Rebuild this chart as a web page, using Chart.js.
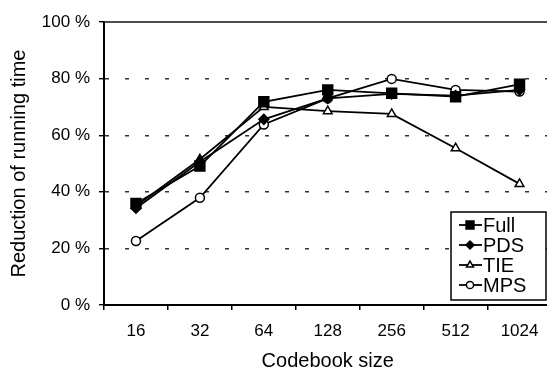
<!DOCTYPE html>
<html>
<head>
<meta charset="utf-8">
<script src="https://cdn.jsdelivr.net/npm/chart.js@4/dist/chart.umd.min.js"></script>
<style>
  html, body { margin: 0; padding: 0; background: #fff; overflow: hidden; }
  #wrap { width: 547px; height: 371px; overflow: hidden; position: relative; }
  #inner { width: 560px; height: 371px; position: absolute; left: 0; top: 0; }
</style>
</head>
<body>
<div id="wrap"><div id="inner"><canvas id="myChart"></canvas></div></div>
<script>
// codebook sizes and reduction of running time (%)
var codebook_sizes = ['16', '32', '64', '128', '256', '512', '1024'];
var full_vals = [35.9, 49.1, 71.8, 76, 74.8, 73.6, 78];
var pds_vals  = [34.2, 50.6, 65.6, 73, 74.6, 74, 76];
var tie_vals  = [35, 51.5, 70, 68.5, 67.5, 55.4, 42.8];
var mps_vals  = [22.6, 37.9, 63.8, 73, 79.9, 76, 75.4];
var y_ticks = [0, 20, 40, 60, 80, 100];

var FONT = "'Liberation Sans', Arial, sans-serif";

function series(label, data, style, fill, radius) {
    return {
        label: label,
        data: data,
        borderColor: '#000',
        borderWidth: 1.8,
        pointStyle: style,
        pointRadius: radius,
        pointHoverRadius: radius,
        pointBackgroundColor: fill,
        pointBorderColor: '#000',
        pointBorderWidth: 1.5,
        tension: 0
    };
}

// legend box with line + marker like the original
var boxLegend = {
    id: 'boxLegend',
    afterDraw: function(chart) {
        var ctx = chart.ctx;
        var x0 = 451, y0 = 212, w = 95, h = 88;
        ctx.save();
        ctx.fillStyle = '#fff';
        ctx.fillRect(x0, y0, w, h);
        ctx.strokeStyle = '#000';
        ctx.lineWidth = 1.5;
        ctx.strokeRect(x0, y0, w, h);
        ctx.font = '20px ' + FONT;
        ctx.textBaseline = 'middle';
        chart.data.datasets.forEach(function(ds, i) {
            var y = y0 + 13 + i * 20;
            ctx.strokeStyle = '#000';
            ctx.lineWidth = 1.8;
            ctx.beginPath();
            ctx.moveTo(x0 + 8, y);
            ctx.lineTo(x0 + 31, y);
            ctx.stroke();
            ctx.fillStyle = ds.pointBackgroundColor;
            ctx.lineWidth = 1.5;
            Chart.helpers.drawPoint(ctx, {
                pointStyle: ds.pointStyle,
                radius: ds.pointRadius * 0.8,
                borderWidth: 1.5,
                rotation: 0
            }, x0 + 19, y);
            ctx.fillStyle = '#000';
            ctx.fillText(ds.label, x0 + 32, y + 1);
        });
        ctx.restore();
    }
};

// top border of the plot
var topLine = {
    id: 'topLine',
    afterDraw: function(chart) {
        var a = chart.chartArea, ctx = chart.ctx;
        ctx.save();
        ctx.strokeStyle = '#111';
        ctx.lineWidth = 1.5;
        ctx.beginPath();
        ctx.moveTo(a.left, a.top);
        ctx.lineTo(a.right, a.top);
        ctx.stroke();
        ctx.restore();
    }
};

var ctx = document.getElementById('myChart').getContext('2d');
var myChart = new Chart(ctx, {
    type: 'line',
    data: {
        labels: codebook_sizes,
        datasets: [
            series('Full', full_vals, 'rect', '#000', 7),
            series('PDS', pds_vals, 'rectRot', '#000', 5),
            series('TIE', tie_vals, 'triangle', '#fff', 5),
            series('MPS', mps_vals, 'circle', '#fff', 4.5)
        ]
    },
    options: {
        responsive: true,
        maintainAspectRatio: false,
        animation: false,
        devicePixelRatio: 1,
        layout: { padding: { top: 22, right: 0, bottom: 0, left: 0 } },
        plugins: {
            legend: { display: false },
            tooltip: { enabled: false }
        },
        scales: {
            x: {
                offset: true,
                afterFit: function(scale) { scale.height = 66; },
                grid: {
                    offset: true,
                    drawOnChartArea: false,
                    color: '#000',
                    tickLength: 5,
                    lineWidth: 1.5
                },
                border: { color: '#000', width: 2 },
                ticks: {
                    color: '#000',
                    padding: 11,
                    font: { family: FONT, size: 17 }
                },
                title: {
                    display: true,
                    text: 'Codebook size',
                    color: '#000',
                    padding: { top: 0, bottom: 0 },
                    font: { family: FONT, size: 20, lineHeight: 1 }
                }
            },
            y: {
                min: 0,
                max: 100,
                afterFit: function(scale) { scale.width = 104; },
                afterBuildTicks: function(scale) {
                    scale.ticks = y_ticks.map(function(v) { return { value: v }; });
                },
                grid: {
                    color: function(c) {
                        return (c.tick && (c.tick.value === 0 || c.tick.value === 100)) ? 'rgba(0,0,0,0)' : '#333';
                    },
                    lineWidth: 1.4,
                    tickColor: '#000',
                    tickLength: 5
                },
                border: { color: '#000', width: 2, dash: [4, 16] },
                ticks: {
                    color: '#000',
                    padding: 9,
                    font: { family: FONT, size: 17 },
                    callback: function(v) { return v + ' %'; }
                },
                title: {
                    display: true,
                    text: 'Reduction of running time',
                    color: '#000',
                    padding: { top: 7, bottom: 0 },
                    font: { family: FONT, size: 20 }
                }
            }
        }
    },
    plugins: [topLine, boxLegend]
});
</script>
</body>
</html>
